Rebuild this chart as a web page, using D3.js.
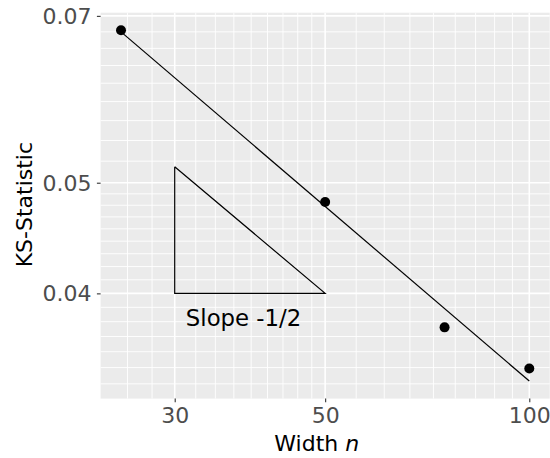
<!DOCTYPE html>
<html>
<head>
<meta charset="utf-8">
<script src="https://cdn.jsdelivr.net/npm/d3@7"></script>
<style>
  html, body { margin: 0; padding: 0; background: #ffffff; }
  svg { display: block; font-family: "DejaVu Sans", sans-serif; }
</style>
</head>
<body>
<svg id="chart" width="550" height="458"></svg>
<script>
// ---- data ----
const widths = [25, 50, 75, 100];
const ksStat = [0.0680, 0.0481, 0.03735, 0.03438];

const xBreaks = [30, 50, 100];
const xTickLabels = ["30", "50", "100"];
const yBreaks = [0.04, 0.05, 0.07];
const yTickLabels = ["0.04", "0.05", "0.07"];

const xMinorBreaks = [25.56, 27.78, 32.22, 34.44, 36.67, 38.89, 41.11, 43.33, 45.56, 47.78,
                      55.56, 61.11, 66.67, 72.22, 77.78, 83.33, 88.89, 94.44];
const yMinorBreaks = [0.03333, 0.03444, 0.03556, 0.03667, 0.03778, 0.03889,
                      0.04111, 0.04222, 0.04333, 0.04444, 0.04556, 0.04667, 0.04778, 0.04889,
                      0.05222, 0.05444, 0.05667, 0.05889, 0.06111, 0.06333, 0.06556, 0.06778];

// slope triangle (slope -1/2 on log-log)
const triX = [30, 50];
const triBaseY = 0.04;
const annotationText = "Slope -1/2";
const annotationX = 37.9;
const annotationY = 0.038;

// ---- linear fit in log-log space (geom_smooth method = lm) ----
const lx = widths.map(Math.log10), ly = ksStat.map(Math.log10);
const mx = d3.mean(lx), my = d3.mean(ly);
const slope = d3.sum(lx.map((v, i) => (v - mx) * (ly[i] - my))) / d3.sum(lx.map(v => (v - mx) ** 2));
const intercept = my - slope * mx;
const fitX = [d3.min(widths), d3.max(widths)];
const fitY = fitX.map(x => Math.pow(10, intercept + slope * Math.log10(x)));

const triTopY = triBaseY * Math.sqrt(triX[1] / triX[0]);

// ---- layout ----
const svg = d3.select("#chart");
const panel = { left: 100.6, right: 549.7, top: 12.7, bottom: 398.6 };

function expandedLog(vals) {
  const lo = Math.log10(d3.min(vals)), hi = Math.log10(d3.max(vals));
  const e = (hi - lo) * 0.05;
  return [Math.pow(10, lo - e), Math.pow(10, hi + e)];
}
const xDom = expandedLog(widths.concat(triX, fitX));
const yDom = expandedLog(ksStat.concat(fitY, [triBaseY, triTopY, annotationY]));

const x = d3.scaleLog().domain(xDom).range([panel.left, panel.right]);
const y = d3.scaleLog().domain(yDom).range([panel.bottom, panel.top]);

// panel background
svg.append("rect")
  .attr("x", panel.left).attr("y", panel.top)
  .attr("width", panel.right - panel.left).attr("height", panel.bottom - panel.top)
  .attr("fill", "#EBEBEB");

const grid = svg.append("g");
// minor grid
grid.selectAll(".xmin").data(xMinorBreaks).join("line")
  .attr("x1", d => x(d)).attr("x2", d => x(d))
  .attr("y1", panel.top).attr("y2", panel.bottom)
  .attr("stroke", "#ffffff").attr("stroke-width", 0.9);
grid.selectAll(".ymin").data(yMinorBreaks).join("line")
  .attr("y1", d => y(d)).attr("y2", d => y(d))
  .attr("x1", panel.left).attr("x2", panel.right)
  .attr("stroke", "#ffffff").attr("stroke-width", 0.9);
// major grid
grid.selectAll(".xmaj").data(xBreaks).join("line")
  .attr("x1", d => x(d)).attr("x2", d => x(d))
  .attr("y1", panel.top).attr("y2", panel.bottom)
  .attr("stroke", "#ffffff").attr("stroke-width", 1.6);
grid.selectAll(".ymaj").data(yBreaks).join("line")
  .attr("y1", d => y(d)).attr("y2", d => y(d))
  .attr("x1", panel.left).attr("x2", panel.right)
  .attr("stroke", "#ffffff").attr("stroke-width", 1.6);

// axes
const xAxis = d3.axisBottom(x).tickValues(xBreaks)
  .tickFormat((d, i) => xTickLabels[i]).tickSize(3.7).tickPadding(4);
const gx = svg.append("g").attr("transform", `translate(0,${panel.bottom})`).call(xAxis);
gx.select(".domain").remove();
gx.selectAll(".tick line").attr("stroke", "#333333").attr("stroke-width", 1.1);
gx.selectAll(".tick text").attr("fill", "#4D4D4D").attr("font-size", 22)
  .attr("font-family", "DejaVu Sans").attr("dy", null).attr("y", 24.4);

const yAxis = d3.axisLeft(y).tickValues(yBreaks)
  .tickFormat((d, i) => yTickLabels[i]).tickSize(3.7).tickPadding(5);
const gy = svg.append("g").attr("transform", `translate(${panel.left},0)`).call(yAxis);
gy.select(".domain").remove();
gy.selectAll(".tick line").attr("stroke", "#333333").attr("stroke-width", 1.1);
gy.selectAll(".tick text").attr("fill", "#4D4D4D").attr("font-size", 22)
  .attr("font-family", "DejaVu Sans").attr("dy", null).attr("y", 7.6).attr("x", -9.2);

// fit line
const line = d3.line().x(d => x(d[0])).y(d => y(d[1]));
svg.append("path")
  .attr("d", line(fitX.map((v, i) => [v, fitY[i]])))
  .attr("fill", "none").attr("stroke", "#000").attr("stroke-width", 1.2);

// slope triangle
svg.append("path")
  .attr("d", line([[triX[0], triTopY], [triX[0], triBaseY], [triX[1], triBaseY], [triX[0], triTopY]]))
  .attr("fill", "none").attr("stroke", "#000").attr("stroke-width", 1.2)
  .attr("stroke-linejoin", "miter");

// points
svg.selectAll(".pt").data(widths).join("circle")
  .attr("cx", d => x(d)).attr("cy", (d, i) => y(ksStat[i]))
  .attr("r", 5).attr("fill", "#000");

// annotation
svg.append("text")
  .attr("x", x(annotationX)).attr("y", y(annotationY) + 7)
  .attr("text-anchor", "middle").attr("font-size", 22.8).attr("fill", "#000")
  .text(annotationText);

// axis titles
const xt = svg.append("text")
  .attr("x", (panel.left + panel.right) / 2 - 8.4).attr("y", 450.5)
  .attr("text-anchor", "middle").attr("font-size", 22).attr("fill", "#000");
xt.append("tspan").text("Width ");
xt.append("tspan").attr("font-style", "italic").text("n");

svg.append("text")
  .attr("transform", `translate(31.5,${(panel.top + panel.bottom) / 2 - 1}) rotate(-90)`)
  .attr("text-anchor", "middle").attr("font-size", 22).attr("fill", "#000")
  .text("KS-Statistic");
</script>
</body>
</html>
